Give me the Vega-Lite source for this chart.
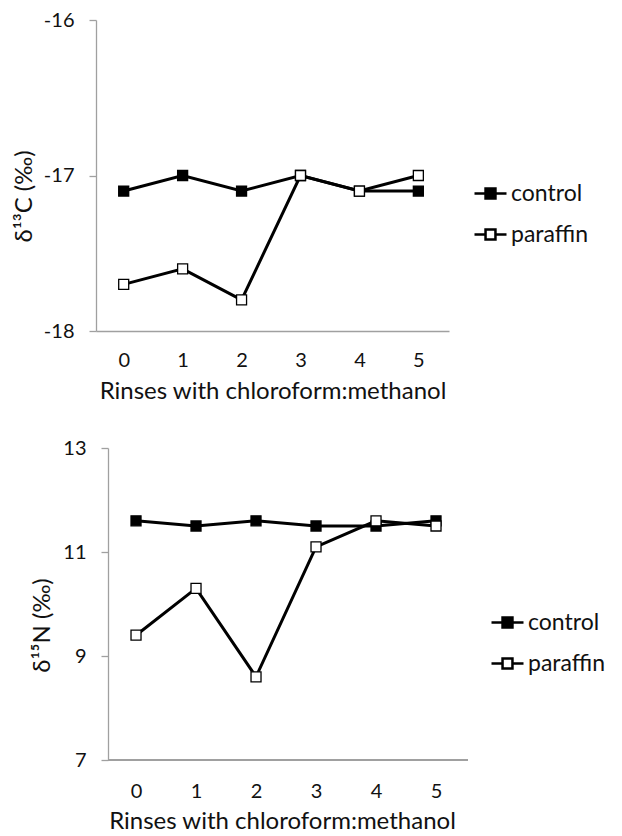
{
  "$schema": "https://vega.github.io/schema/vega-lite/v6.json",
  "padding": {"top": 10, "left": 12, "right": 5, "bottom": 0},
  "spacing": 35,
  "datasets": {
    "c13": [
      {"rinse": 0, "series": "control", "value": -17.1},
      {"rinse": 1, "series": "control", "value": -17.0},
      {"rinse": 2, "series": "control", "value": -17.1},
      {"rinse": 3, "series": "control", "value": -17.0},
      {"rinse": 4, "series": "control", "value": -17.1},
      {"rinse": 5, "series": "control", "value": -17.1},
      {"rinse": 0, "series": "paraffin", "value": -17.7},
      {"rinse": 1, "series": "paraffin", "value": -17.6},
      {"rinse": 2, "series": "paraffin", "value": -17.8},
      {"rinse": 3, "series": "paraffin", "value": -17.0},
      {"rinse": 4, "series": "paraffin", "value": -17.1},
      {"rinse": 5, "series": "paraffin", "value": -17.0}
    ],
    "n15": [
      {"rinse": 0, "series": "control", "value": 11.6},
      {"rinse": 1, "series": "control", "value": 11.5},
      {"rinse": 2, "series": "control", "value": 11.6},
      {"rinse": 3, "series": "control", "value": 11.5},
      {"rinse": 4, "series": "control", "value": 11.5},
      {"rinse": 5, "series": "control", "value": 11.6},
      {"rinse": 0, "series": "paraffin", "value": 9.4},
      {"rinse": 1, "series": "paraffin", "value": 10.3},
      {"rinse": 2, "series": "paraffin", "value": 8.6},
      {"rinse": 3, "series": "paraffin", "value": 11.1},
      {"rinse": 4, "series": "paraffin", "value": 11.6},
      {"rinse": 5, "series": "paraffin", "value": 11.5}
    ]
  },
  "vconcat": [
    {
      "width": 353,
      "height": 311,
      "data": {"name": "c13"},
      "encoding": {
        "x": {"field": "rinse", "type": "quantitative",
          "scale": {"domain": [-0.47, 5.52], "nice": false, "zero": false},
          "axis": {"values": [0, 1, 2, 3, 4, 5], "ticks": false, "grid": false, "labelPadding": 19,
            "title": "Rinses with chloroform:methanol", "titlePadding": 9}},
        "y": {"field": "value", "type": "quantitative",
          "scale": {"domain": [-18, -16], "nice": false, "zero": false},
          "axis": {"values": [-18, -17, -16], "grid": false, "tickSize": 7, "labelPadding": 15,
            "labelExpr": "'' + datum.value",
            "title": "δ¹³C (‰)", "titlePadding": 7, "titleY": 176}}
      },
      "layer": [
        {"mark": {"type": "line", "color": "black", "strokeWidth": 3}, "encoding": {"detail": {"field": "series"}}},
        {"mark": {"type": "point", "shape": "square", "filled": true, "stroke": "black", "strokeWidth": 1.3, "size": 100, "opacity": 1},
          "encoding": {"fill": {"field": "series", "type": "nominal",
            "scale": {"domain": ["control", "paraffin"], "range": ["black", "white"]},
            "legend": {"title": null, "orient": "none", "legendX": 377, "legendY": 156}}}}
      ]
    },
    {
      "width": 372,
      "height": 312,
      "data": {"name": "n15"},
      "encoding": {
        "x": {"field": "rinse", "type": "quantitative",
          "scale": {"domain": [-0.667, 5.533], "nice": false, "zero": false},
          "axis": {"values": [0, 1, 2, 3, 4, 5], "ticks": false, "grid": false, "domain": false, "labelPadding": 21,
            "title": "Rinses with chloroform:methanol", "titlePadding": 8}},
        "y": {"field": "value", "type": "quantitative",
          "scale": {"domain": [7, 13], "nice": false, "zero": false},
          "axis": {"values": [7, 9, 11, 13], "grid": false, "tickSize": 7, "labelPadding": 15, "offset": -12,
            "title": "δ¹⁵N (‰)", "titlePadding": 8, "titleY": 177}}
      },
      "layer": [
        {"mark": {"type": "rule", "color": "#a0a0a0", "strokeWidth": 1.3},
          "encoding": {"x": {"datum": -0.467}, "x2": {"datum": 5.533}, "y": {"datum": 7}}},
        {"mark": {"type": "line", "color": "black", "strokeWidth": 3}, "encoding": {"detail": {"field": "series"}}},
        {"mark": {"type": "point", "shape": "square", "filled": true, "stroke": "black", "strokeWidth": 1.3, "size": 100, "opacity": 1},
          "encoding": {"fill": {"field": "series", "type": "nominal",
            "scale": {"domain": ["control", "paraffin"], "range": ["black", "white"]},
            "legend": {"title": null, "orient": "none", "legendX": 394, "legendY": 157}}}}
      ]
    }
  ],
  "resolve": {"scale": {"fill": "independent", "x": "independent", "y": "independent"}, "legend": {"fill": "independent"}},
  "config": {
    "font": "Lato",
    "view": {"stroke": null},
    "axis": {"domainColor": "#a0a0a0", "tickColor": "#a0a0a0", "domainWidth": 1.3, "tickWidth": 1.3,
      "labelFont": "Lato", "labelFontSize": 20, "labelColor": "#111",
      "titleFont": "Lato", "titleFontSize": 24, "titleFontWeight": "normal", "titleColor": "#111"},
    "legend": {"labelFont": "Lato", "labelFontSize": 23, "labelColor": "#111", "labelOffset": 3,
      "symbolType": "M-1,0H-0.31M0.31,0H1M-0.31,-0.31H0.31V0.31H-0.31Z",
      "symbolSize": 1024, "symbolStrokeColor": "black", "symbolStrokeWidth": 2.5, "rowPadding": 11}
  }
}
